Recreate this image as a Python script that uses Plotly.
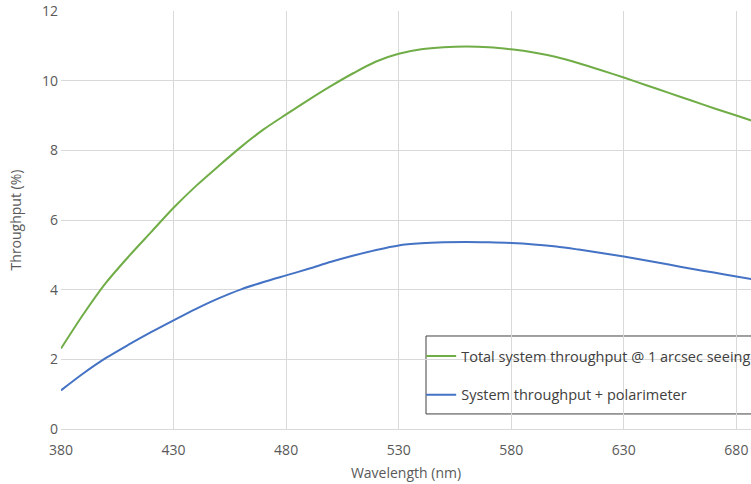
import plotly.graph_objects as go

wavelength = [380, 390, 400, 410, 420, 430, 440, 450, 460, 470, 480, 490, 500, 510, 520,
              530, 540, 550, 560, 570, 580, 590, 600, 610, 620, 630, 640, 650, 660, 670, 680, 687]
total_throughput = [2.31, 3.30, 4.20, 4.95, 5.65, 6.35, 6.98, 7.55, 8.10, 8.60, 9.03, 9.45, 9.85,
                    10.22, 10.55, 10.77, 10.90, 10.96, 10.98, 10.96, 10.90, 10.81, 10.68, 10.50,
                    10.30, 10.09, 9.87, 9.65, 9.43, 9.21, 9.00, 8.85]
polarimeter_throughput = [1.11, 1.60, 2.04, 2.42, 2.78, 3.12, 3.45, 3.75, 4.01, 4.22, 4.41, 4.60,
                          4.80, 4.98, 5.14, 5.27, 5.33, 5.36, 5.37, 5.36, 5.34, 5.30, 5.24, 5.15,
                          5.05, 4.95, 4.84, 4.72, 4.60, 4.49, 4.38, 4.30]
series_names = ["Total system throughput @ 1 arcsec seeing", "System throughput + polarimeter"]
series_colors = ["#70ad47", "#4472c4"]
x_ticks = [380, 430, 480, 530, 580, 630, 680]
y_ticks = [0, 2, 4, 6, 8, 10, 12]

FONT = "Open Sans"
TXT = "#595959"

fig = go.Figure()
for i, (name, ys) in enumerate(zip(series_names, [total_throughput, polarimeter_throughput])):
    fig.add_trace(go.Scatter(
        x=wavelength, y=ys, mode="lines", name=name, legendgroup=f"g{i}",
        line=dict(color=series_colors[i], width=2, shape="spline", smoothing=0.8),
    ))

fig.update_layout(
    width=751, height=484,
    margin=dict(l=61, r=0, t=11, b=55, autoexpand=False),
    paper_bgcolor="white", plot_bgcolor="white",
    font=dict(family=FONT, size=14, color=TXT),
    showlegend=True,
    legend=dict(
        x=0.522, y=0.213, xanchor="left", yanchor="top",
        bgcolor="rgba(0,0,0,0)", borderwidth=0,
        font=dict(family=FONT, size=14.5, color="#404040"),
        tracegroupgap=17, itemwidth=30,
    ),
    shapes=[dict(type="rect", xref="paper", yref="paper",
                 x0=0.529, x1=1.05, y0=0.036, y1=0.2225,
                 line=dict(color="#404040", width=1), fillcolor="white", layer="below")],
    xaxis=dict(
        range=[380, 686.5], tickvals=x_ticks, ticktext=[str(v) for v in x_ticks],
        showgrid=True, gridcolor="#d9d9d9", gridwidth=1,
        showline=True, linecolor="#d9d9d9", linewidth=1,
        zeroline=False, ticks="", automargin=False, ticklabelstandoff=8,
        tickfont=dict(family=FONT, size=14, color=TXT),
        title=dict(text="Wavelength (nm)", font=dict(family=FONT, size=14, color=TXT), standoff=10),
    ),
    yaxis=dict(
        range=[0, 12], tickvals=y_ticks,
        showgrid=True, gridcolor="#d9d9d9", gridwidth=1,
        showline=False, zeroline=False, ticks="", automargin=False, ticklabelstandoff=2,
        tickfont=dict(family=FONT, size=14, color=TXT),
        title=dict(text="Throughput (%)", font=dict(family=FONT, size=14, color=TXT), standoff=17),
    ),
)

fig.write_html(
    "out.html",
    config={"responsive": False, "displayModeBar": False},
    post_script="document.body.style.margin='0';document.documentElement.style.overflow='hidden';",
)
